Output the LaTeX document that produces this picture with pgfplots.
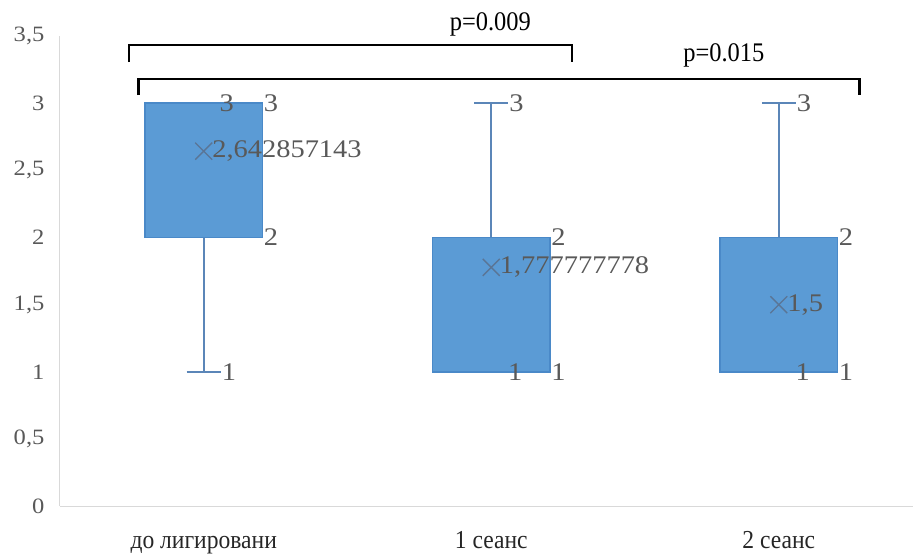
\documentclass[border=0pt]{standalone}
\usepackage{fontspec}
\setmainfont{Liberation Serif}
\newfontfamily\widefont{Liberation Serif}[FakeStretch=1.12]
\newfontfamily\narrowfont{Liberation Serif}[FakeStretch=0.91]
\usepackage{pgfplots}
\pgfplotsset{compat=1.18}
\usepgfplotslibrary{statistics}
\definecolor{boxfill}{HTML}{5B9BD5}
\definecolor{boxedge}{HTML}{4A89C8}
\definecolor{whisk}{HTML}{5B86B8}
\definecolor{lbl}{HTML}{595959}
\definecolor{meancol}{HTML}{5A7596}
\definecolor{axisgray}{HTML}{D9D9D9}
\newcommand{\tfont}{\widefont\fontsize{22}{26}\selectfont}
\newcommand{\dfont}{\widefont\fontsize{25.5}{29}\selectfont}
\newcommand{\pfont}{\narrowfont\fontsize{27}{31}\selectfont}
\newcommand{\xfont}{\narrowfont\fontsize{26}{30}\selectfont}
\begin{document}
\begin{tikzpicture}
\begin{axis}[
  scale only axis, width=853bp, height=470.5bp,
  xmin=-0.5, xmax=2.465, ymin=0, ymax=3.5,
  axis x line*=bottom, axis y line*=left,
  axis line style={draw=axisgray, line width=1bp},
  xtick={0,1,2}, xticklabels={до лигировани, 1 сеанс, 2 сеанс},
  ytick={0,0.5,1,1.5,2,2.5,3,3.5},
  major tick length=0pt,
  /pgf/number format/assume math mode=true,
  yticklabel style={/pgf/number format/.cd, use comma, fixed, precision=1, /tikz/.cd, text=lbl, font=\tfont, xshift=-12bp},
  xticklabel style={text=black!85, font=\xfont, anchor=base, yshift=-42bp},
  clip=false,
  boxplot/draw direction=y,
  boxplot/every box/.style={draw=boxedge, fill=boxfill, line width=1.5bp},
  boxplot/every whisker/.style={draw=whisk, line width=2bp},
  boxplot/every median/.style={draw=boxedge, line width=1.5bp},
]
\addplot+[mark=none, boxplot prepared={draw position=0, lower whisker=1, lower quartile=2, median=3, upper quartile=3, upper whisker=3, box extend=0.41, whisker extend=0.118}] coordinates {};
\addplot+[mark=none, boxplot prepared={draw position=1, lower whisker=1, lower quartile=1, median=1, upper quartile=2, upper whisker=3, box extend=0.41, whisker extend=0.118}] coordinates {};
\addplot+[mark=none, boxplot prepared={draw position=2, lower whisker=1, lower quartile=1, median=1, upper quartile=2, upper whisker=3, box extend=0.41, whisker extend=0.118}] coordinates {};
\addplot[only marks, mark=x, mark size=12bp, mark options={draw=meancol, line width=1.3bp},
  nodes near coords, point meta=explicit symbolic,
  nodes near coords style={anchor=west, text=lbl, font=\dfont, inner sep=0bp, xshift=8bp}]
  coordinates {(0,2.642857143) [{2,642857143}] (1,1.777777778) [{1,777777778}] (2,1.5) [{1,5}]};
% data labels
\begin{scope}[every node/.style={text=lbl, font=\dfont, inner sep=1bp}]
\node[anchor=center] at (axis cs:0.08,3) {3};
\node[anchor=west] at (axis cs:0.205,3) {3};
\node[anchor=west] at (axis cs:0.205,2) {2};
\node[anchor=west] at (axis cs:0.059,1) {1};
\node[anchor=center] at (axis cs:1.083,1) {1};
\node[anchor=west] at (axis cs:1.205,1) {1};
\node[anchor=west] at (axis cs:1.205,2) {2};
\node[anchor=west] at (axis cs:1.059,3) {3};
\node[anchor=center] at (axis cs:2.083,1) {1};
\node[anchor=west] at (axis cs:2.205,1) {1};
\node[anchor=west] at (axis cs:2.205,2) {2};
\node[anchor=west] at (axis cs:2.059,3) {3};
\end{scope}
% significance brackets
\draw[line width=2.5bp] (axis cs:-0.26,3.305) -- (axis cs:-0.26,3.431) -- (axis cs:1.281,3.431) -- (axis cs:1.281,3.305);
\draw[line width=2.5bp] (axis cs:-0.226,3.06) -- (axis cs:-0.226,3.178) -- (axis cs:2.281,3.178) -- (axis cs:2.281,3.06);
\node[font=\pfont, inner sep=0bp] at (axis cs:0.997,3.585) {p=0.009};
\node[font=\pfont, inner sep=0bp] at (axis cs:1.809,3.355) {p=0.015};
\path (rel axis cs:-0.0703,-0.0988) rectangle (rel axis cs:1,1.0765);
\end{axis}
\end{tikzpicture}
\end{document}
